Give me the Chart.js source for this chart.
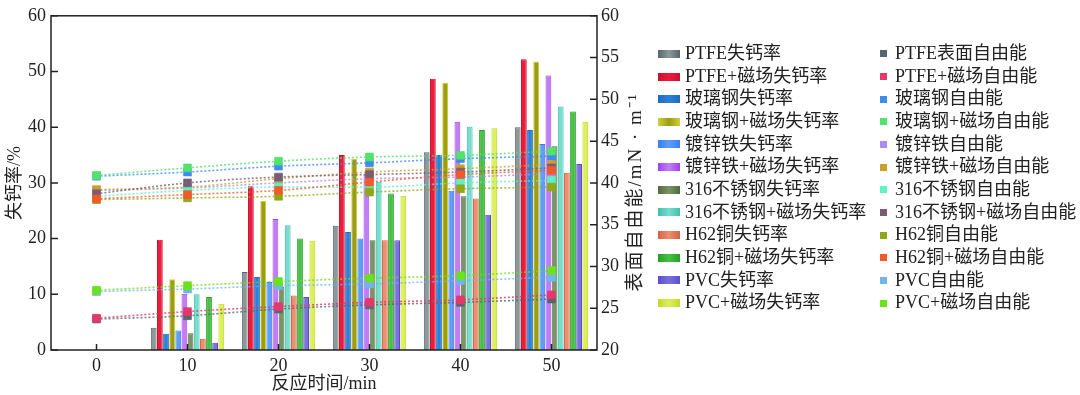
<!DOCTYPE html>
<html>
<head>
<meta charset="utf-8">
<script src="https://cdn.jsdelivr.net/npm/chart.js"></script>
<style>
    html, body { margin: 0; padding: 0; background: #fff; }
    #wrap { position: relative; width: 1080px; height: 395px; }
    #box { position: absolute; left: 0; top: 0; width: 660px; height: 395px; }
    #legend { position: absolute; left: 0; top: 0; width: 1080px; height: 395px;
              font-family: 'Liberation Serif', 'Noto Sans CJK SC', serif; font-size: 18px; color: #222; }
    .row { position: absolute; height: 22px; line-height: 22px; white-space: nowrap; }
    .sw { display: inline-block; vertical-align: middle; position: relative; top: -1px; }
</style>
</head>
<body>
<div id="wrap">
    <div id="box"><canvas id="chart"></canvas></div>
    <div id="legend"></div>
</div>
<script>
var categories = ['0', '10', '20', '30', '40', '50'];

// 失钙率 / %
var lossPtfe = [0, 4.0, 14.0, 22.3, 35.5, 40.0];
var lossPtfeMag = [0, 19.8, 29.4, 35.0, 48.7, 52.2];
var lossFrp = [0, 2.9, 13.1, 21.2, 35.0, 39.5];
var lossFrpMag = [0, 12.7, 26.8, 34.3, 48.0, 51.8];
var lossGalv = [0, 3.5, 12.2, 20.0, 28.6, 37.0];
var lossGalvMag = [0, 10.1, 23.5, 31.6, 41.0, 49.3];
var lossSs316 = [0, 3.0, 11.4, 19.7, 27.6, 36.6];
var lossSs316Mag = [0, 10.0, 22.4, 30.2, 40.1, 43.7];
var lossH62 = [0, 2.0, 9.8, 19.7, 27.2, 31.8];
var lossH62Mag = [0, 9.5, 20.0, 28.1, 39.5, 42.8];
var lossPvc = [0, 1.3, 9.5, 19.7, 24.3, 33.4];
var lossPvcMag = [0, 8.3, 19.6, 27.7, 39.8, 41.0];

// 表面自由能 / mN·m-1
var fePtfe = [23.7, 24.1, 24.9, 25.4, 25.7, 26.1];
var fePtfeMag = [23.8, 24.6, 25.2, 25.7, 26.0, 26.6];
var feFrp = [40.8, 41.3, 42.0, 42.4, 42.9, 43.2];
var feFrpMag = [40.9, 41.8, 42.6, 43.1, 43.3, 43.8];
var feGalv = [39.1, 39.4, 40.0, 40.5, 40.7, 41.1];
var feGalvMag = [39.2, 39.5, 40.5, 41.3, 41.7, 42.2];
var feSs316 = [38.4, 39.1, 39.5, 39.5, 40.0, 40.3];
var feSs316Mag = [38.7, 40.0, 40.7, 41.0, 41.3, 41.8];
var feH62 = [38.0, 38.2, 38.4, 38.9, 39.3, 39.5];
var feH62Mag = [38.1, 38.6, 39.1, 40.1, 41.0, 41.5];
var fePvc = [27.0, 27.3, 27.7, 27.9, 28.3, 28.7];
var fePvcMag = [27.15, 27.7, 28.2, 28.6, 28.9, 29.5];

var lossNames = ['PTFE失钙率', 'PTFE+磁场失钙率', '玻璃钢失钙率', '玻璃钢+磁场失钙率', '镀锌铁失钙率', '镀锌铁+磁场失钙率',
    '316不锈钢失钙率', '316不锈钢+磁场失钙率', 'H62铜失钙率', 'H62铜+磁场失钙率', 'PVC失钙率', 'PVC+磁场失钙率'];
var feNames = ['PTFE表面自由能', 'PTFE+磁场自由能', '玻璃钢自由能', '玻璃钢+磁场自由能', '镀锌铁自由能', '镀锌铁+磁场自由能',
    '316不锈钢自由能', '316不锈钢+磁场自由能', 'H62铜自由能', 'H62铜+磁场自由能', 'PVC自由能', 'PVC+磁场自由能'];

var lossData = [lossPtfe, lossPtfeMag, lossFrp, lossFrpMag, lossGalv, lossGalvMag,
    lossSs316, lossSs316Mag, lossH62, lossH62Mag, lossPvc, lossPvcMag];
var feData = [fePtfe, fePtfeMag, feFrp, feFrpMag, feGalv, feGalvMag,
    feSs316, feSs316Mag, feH62, feH62Mag, fePvc, fePvcMag];

var barFill = ['#8c999b', '#ec1c3c', '#2b80dc', '#9c9c16', '#5e9ef7', '#c27cf5',
    '#7a9466', '#78ddcc', '#ec8e72', '#48c048', '#7c72dc', '#dcef5c'];
var barEdge = ['#56666a', '#c8102e', '#1f6cc0', '#cfcf3e', '#3a7cf0', '#a040f0',
    '#4f6b3c', '#3fc0ad', '#d8623f', '#279f27', '#5a4cc8', '#c2da26'];
var feColors = ['#56676d', '#e5386a', '#3d8df0', '#52e26e', '#a98cf2', '#c9a02a',
    '#5cf2c2', '#7a5b78', '#8fa818', '#f25a2a', '#70b6e8', '#6ae21c'];

var serif = "'Liberation Serif', 'Noto Sans CJK SC', serif";

var datasets = [];
for (var i = 0; i < lossData.length; i++) {
    datasets.push({
        type: 'bar',
        label: lossNames[i],
        data: lossData[i],
        yAxisID: 'y',
        backgroundColor: barFill[i],
        borderColor: barEdge[i],
        borderWidth: 1,
        categoryPercentage: 0.81,
        barPercentage: 0.94,
        order: 100
    });
}
for (var j = 0; j < feData.length; j++) {
    datasets.push({
        type: 'line',
        label: feNames[j],
        data: feData[j],
        yAxisID: 'y1',
        borderColor: feColors[j] + 'cc',
        borderWidth: 1.6,
        borderDash: [2, 2],
        cubicInterpolationMode: 'monotone',
        fill: false,
        pointStyle: 'rect',
        pointRadius: 5.5,
        pointBackgroundColor: feColors[j],
        pointBorderColor: feColors[j] + 'aa',
        pointBorderWidth: 1,
        order: 50 - j
    });
}

var framePlugin = {
    id: 'frame',
    afterDraw: function (chart) {
        var ctx = chart.ctx;
        var a = chart.chartArea;
        ctx.save();
        ctx.strokeStyle = '#222';
        ctx.lineWidth = 1.5;
        ctx.strokeRect(a.left, a.top, a.right - a.left, a.bottom - a.top);
        ctx.beginPath();
        chart.scales.y.ticks.forEach(function (t) {
            var py = chart.scales.y.getPixelForValue(t.value);
            ctx.moveTo(a.left, py);
            ctx.lineTo(a.left + 7, py);
        });
        chart.scales.y1.ticks.forEach(function (t) {
            var py = chart.scales.y1.getPixelForValue(t.value);
            ctx.moveTo(a.right - 7, py);
            ctx.lineTo(a.right, py);
        });
        chart.scales.x.ticks.forEach(function (t, k) {
            var px = chart.scales.x.getPixelForTick(k);
            ctx.moveTo(px, a.bottom);
            ctx.lineTo(px, a.bottom - 6);
        });
        ctx.stroke();

        // right axis title, read bottom to top
        ctx.translate(636, 192);
        ctx.rotate(-Math.PI / 2);
        ctx.fillStyle = '#222';
        ctx.font = '19px ' + serif;
        ctx.letterSpacing = '2px';
        ctx.textAlign = 'center';
        ctx.textBaseline = 'middle';
        ctx.fillText('表面自由能/mN · m⁻¹', 0, 0);
        ctx.restore();
    }
};

new Chart(document.getElementById('chart').getContext('2d'), {
    type: 'bar',
    data: { labels: categories, datasets: datasets },
    options: {
        responsive: true,
        maintainAspectRatio: false,
        animation: false,
        layout: { padding: { top: 5, left: 0, right: 0, bottom: 0 } },
        plugins: { legend: { display: false }, tooltip: { enabled: false } },
        scales: {
            x: {
                offset: true,
                grid: { display: false, drawTicks: false },
                border: { display: false },
                ticks: { padding: 5, color: '#222', font: { family: serif, size: 18 } },
                title: { display: true, text: '反应时间/min', color: '#222',
                    font: { family: serif, size: 18 }, padding: { top: 0, bottom: 0 } },
                afterFit: function (s) { s.height = 45; }
            },
            y: {
                position: 'left',
                min: 0, max: 60,
                grid: { display: false, drawTicks: false },
                border: { display: false },
                ticks: { stepSize: 10, padding: 5, color: '#222', font: { family: serif, size: 18 } },
                title: { display: true, text: '失钙率/%', color: '#222',
                    font: { family: serif, size: 18 }, padding: { top: 4, bottom: 0 } },
                afterFit: function (s) { s.width = 51; }
            },
            y1: {
                position: 'right',
                min: 20, max: 60,
                grid: { display: false, drawTicks: false },
                border: { display: false },
                ticks: { stepSize: 5, padding: 4, color: '#222', font: { family: serif, size: 18 } },
                afterFit: function (s) { s.width = 63; }
            }
        }
    },
    plugins: [framePlugin]
});

// two-column legend: bars on the left, free-energy markers on the right
function buildLegend() {
    var legend = document.getElementById('legend');
    for (var r = 0; r < lossNames.length; r++) {
        var rowTop = 53 + r * 22.65 - 11;
        var barRow = document.createElement('div');
        barRow.className = 'row';
        barRow.style.left = '658px';
        barRow.style.top = rowTop + 'px';
        barRow.innerHTML = '<span class="sw" style="width:22px;height:8px;margin-right:5px;background:linear-gradient(90deg,' +
            barEdge[r] + ',' + barFill[r] + ',' + barEdge[r] + ')"></span>' + lossNames[r];
        legend.appendChild(barRow);

        var feRow = document.createElement('div');
        feRow.className = 'row';
        feRow.style.left = '880px';
        feRow.style.top = rowTop + 'px';
        feRow.innerHTML = '<span class="sw" style="width:7px;height:7px;margin-right:8px;background:' +
            feColors[r] + '"></span>' + feNames[r];
        legend.appendChild(feRow);
    }
}
buildLegend();
</script>
</body>
</html>
